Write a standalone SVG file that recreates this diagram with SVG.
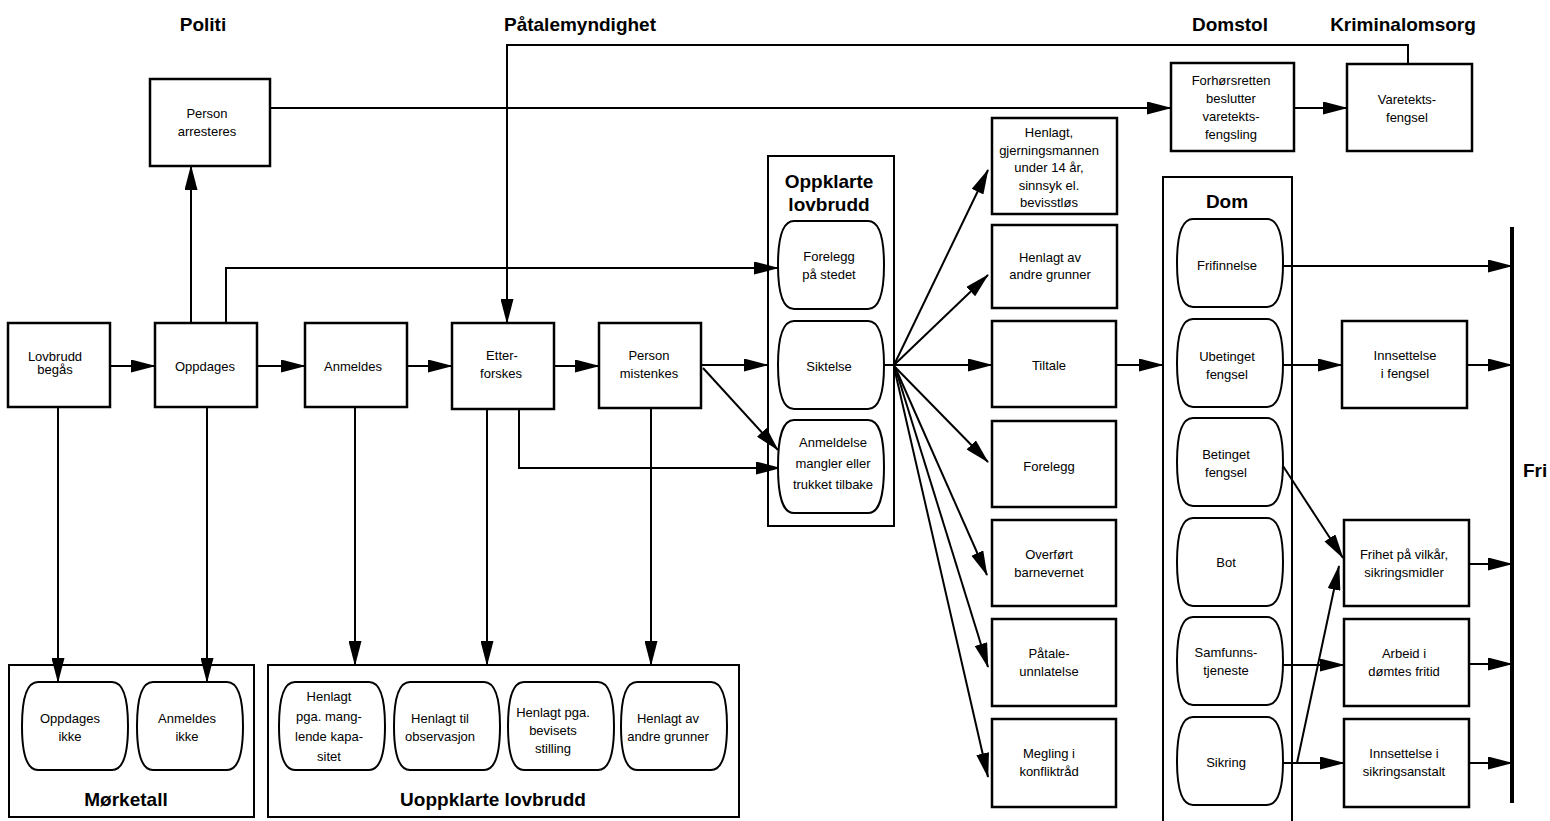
<svg xmlns="http://www.w3.org/2000/svg" xmlns:xlink="http://www.w3.org/1999/xlink" width="1550" height="821" viewBox="0 0 1550 821">
<style>
.bx{fill:#fff;stroke:#000;stroke-width:2.5}
.ct{fill:none;stroke:#000;stroke-width:2}
.pl{fill:#fff;stroke:#000;stroke-width:2}
.c{fill:none;stroke:#000;stroke-width:2}
.t{font-family:"Liberation Sans",Arial,sans-serif;font-size:13px;text-anchor:middle;fill:#000}
.h{font-family:"Liberation Sans",Arial,sans-serif;font-size:19px;font-weight:bold;text-anchor:middle;fill:#000}
</style>
<defs>
<marker id="ar" markerUnits="userSpaceOnUse" markerWidth="25" markerHeight="13" refX="24" refY="6.5" orient="auto">
<path d="M0,0 L25,6.5 L0,13 Z" fill="#000"/>
</marker>
<path id="pill" d="M16,0 H90 C101,0 106,14 106,44 C106,74 101,88 90,88 H16 C5,88 0,74 0,44 C0,14 5,0 16,0 Z"/>
</defs>
<rect width="1550" height="821" fill="#fff"/>

<g id="headers">
<text class="h" x="203" y="31">Politi</text>
<text class="h" x="580" y="31">Påtalemyndighet</text>
<text class="h" x="1230" y="31">Domstol</text>
<text class="h" x="1403" y="31">Kriminalomsorg</text>
<text class="h" x="1523" y="477" style="text-anchor:start">Fri</text>
</g>

<g id="containers">
<rect class="ct" x="768" y="156" width="126" height="370"/>
<text class="h" x="829" y="188">Oppklarte</text>
<text class="h" x="829" y="211">lovbrudd</text>
<path class="ct" d="M1163,830 V177 H1292 V830"/>
<text class="h" x="1227" y="208">Dom</text>
<rect class="ct" x="9" y="665" width="245" height="152"/>
<text class="h" x="126" y="806">Mørketall</text>
<rect class="ct" x="268" y="665" width="471" height="152"/>
<text class="h" x="493" y="806">Uoppklarte lovbrudd</text>
<line x1="1512" y1="227" x2="1512" y2="803" stroke="#000" stroke-width="4"/>
</g>

<g id="connectors">
<line class="c" x1="110" y1="366" x2="155" y2="366" marker-end="url(#ar)"/>
<line class="c" x1="257" y1="366" x2="305" y2="366" marker-end="url(#ar)"/>
<line class="c" x1="407" y1="366" x2="452" y2="366" marker-end="url(#ar)"/>
<line class="c" x1="554" y1="366" x2="599" y2="366" marker-end="url(#ar)"/>
<line class="c" x1="701" y1="365" x2="768" y2="365" marker-end="url(#ar)"/>
<line class="c" x1="703" y1="368" x2="778" y2="450" marker-end="url(#ar)"/>
<polyline class="c" points="519,409 519,468 780,468" marker-end="url(#ar)"/>
<polyline class="c" points="226,323 226,268 778,268" marker-end="url(#ar)"/>
<line class="c" x1="191" y1="323" x2="191" y2="166" marker-end="url(#ar)"/>
<line class="c" x1="270" y1="108" x2="1171" y2="108" marker-end="url(#ar)"/>
<line class="c" x1="1294" y1="108" x2="1347" y2="108" marker-end="url(#ar)"/>
<polyline class="c" points="1408,64 1408,45 507,45 507,323" marker-end="url(#ar)"/>
<line class="c" x1="58" y1="407" x2="58" y2="682" marker-end="url(#ar)"/>
<line class="c" x1="207" y1="407" x2="207" y2="682" marker-end="url(#ar)"/>
<line class="c" x1="355" y1="407" x2="355" y2="665" marker-end="url(#ar)"/>
<line class="c" x1="487" y1="409" x2="487" y2="665" marker-end="url(#ar)"/>
<line class="c" x1="651" y1="408" x2="651" y2="665" marker-end="url(#ar)"/>
<line class="c" x1="884" y1="365" x2="894" y2="365"/>
<line class="c" x1="894" y1="365" x2="988" y2="170" marker-end="url(#ar)"/>
<line class="c" x1="894" y1="365" x2="988" y2="275" marker-end="url(#ar)"/>
<line class="c" x1="894" y1="365" x2="992" y2="365" marker-end="url(#ar)"/>
<line class="c" x1="894" y1="366" x2="988" y2="462" marker-end="url(#ar)"/>
<line class="c" x1="895" y1="367" x2="987" y2="575" marker-end="url(#ar)"/>
<line class="c" x1="895" y1="367" x2="988" y2="667" marker-end="url(#ar)"/>
<line class="c" x1="894" y1="367" x2="988" y2="777" marker-end="url(#ar)"/>
<line class="c" x1="1116" y1="365" x2="1163" y2="365" marker-end="url(#ar)"/>
<line class="c" x1="1283" y1="266" x2="1512" y2="266" marker-end="url(#ar)"/>
<line class="c" x1="1283" y1="365" x2="1342" y2="365" marker-end="url(#ar)"/>
<line class="c" x1="1467" y1="365" x2="1512" y2="365" marker-end="url(#ar)"/>
<line class="c" x1="1283" y1="466" x2="1343" y2="558" marker-end="url(#ar)"/>
<line class="c" x1="1283" y1="665" x2="1344" y2="665" marker-end="url(#ar)"/>
<line class="c" x1="1283" y1="763" x2="1344" y2="763" marker-end="url(#ar)"/>
<line class="c" x1="1297" y1="763" x2="1339" y2="566" marker-end="url(#ar)"/>
<line class="c" x1="1469" y1="564" x2="1512" y2="564" marker-end="url(#ar)"/>
<line class="c" x1="1469" y1="664" x2="1512" y2="664" marker-end="url(#ar)"/>
<line class="c" x1="1469" y1="763" x2="1512" y2="763" marker-end="url(#ar)"/>
</g>

<g id="person-arresteres"><rect class="bx" x="150" y="79" width="120" height="87"/>
<text class="t" x="207" y="118">Person</text><text class="t" x="207" y="136">arresteres</text></g>
<g id="lovbrudd-begas"><rect class="bx" x="8" y="323" width="102" height="84"/>
<text class="t" x="55" y="361">Lovbrudd</text><text class="t" x="55" y="374">begås</text></g>
<g id="oppdages"><rect class="bx" x="155" y="323" width="102" height="84"/>
<text class="t" x="205" y="371">Oppdages</text></g>
<g id="anmeldes"><rect class="bx" x="305" y="323" width="102" height="84"/>
<text class="t" x="353" y="371">Anmeldes</text></g>
<g id="etterforskes"><rect class="bx" x="452" y="323" width="102" height="86"/>
<text class="t" x="502" y="360">Etter-</text><text class="t" x="501" y="378">forskes</text></g>
<g id="person-mistenkes"><rect class="bx" x="599" y="323" width="102" height="85"/>
<text class="t" x="649" y="360">Person</text><text class="t" x="649" y="378">mistenkes</text></g>

<g id="forelegg-pa-stedet"><use href="#pill" class="pl" x="778" y="221"/>
<text class="t" x="829" y="261">Forelegg</text><text class="t" x="829" y="279">på stedet</text></g>
<g id="siktelse"><use href="#pill" class="pl" x="778" y="321"/>
<text class="t" x="829" y="371">Siktelse</text></g>
<g id="anmeldelse-mangler"><use href="#pill" class="pl" transform="translate(778,420) scale(1,1.057)"/>
<text class="t" x="833" y="447">Anmeldelse</text><text class="t" x="833" y="468">mangler eller</text><text class="t" x="833" y="489">trukket tilbake</text></g>

<g id="forhorsretten"><rect class="bx" x="1171" y="63" width="123" height="88"/>
<text class="t" x="1231" y="85">Forhørsretten</text><text class="t" x="1231" y="103">beslutter</text><text class="t" x="1231" y="121">varetekts-</text><text class="t" x="1231" y="139">fengsling</text></g>
<g id="varetektsfengsel"><rect class="bx" x="1347" y="64" width="125" height="87"/>
<text class="t" x="1407" y="104">Varetekts-</text><text class="t" x="1407" y="122">fengsel</text></g>

<g id="henlagt-gjerningsmannen"><rect class="bx" x="992" y="118" width="125" height="96"/>
<text class="t" x="1049" y="137">Henlagt,</text><text class="t" x="1049" y="155">gjerningsmannen</text><text class="t" x="1049" y="172">under 14 år,</text><text class="t" x="1049" y="190">sinnsyk el.</text><text class="t" x="1049" y="207">bevisstløs</text></g>
<g id="henlagt-andre"><rect class="bx" x="992" y="225" width="125" height="83"/>
<text class="t" x="1050" y="262">Henlagt av</text><text class="t" x="1050" y="279">andre grunner</text></g>
<g id="tiltale"><rect class="bx" x="992" y="321" width="124" height="86"/>
<text class="t" x="1049" y="370">Tiltale</text></g>
<g id="forelegg"><rect class="bx" x="992" y="421" width="124" height="86"/>
<text class="t" x="1049" y="471">Forelegg</text></g>
<g id="overfort-barnevernet"><rect class="bx" x="992" y="520" width="124" height="86"/>
<text class="t" x="1049" y="559">Overført</text><text class="t" x="1049" y="577">barnevernet</text></g>
<g id="patale-unnlatelse"><rect class="bx" x="992" y="619" width="124" height="87"/>
<text class="t" x="1049" y="658">Påtale-</text><text class="t" x="1049" y="676">unnlatelse</text></g>
<g id="megling"><rect class="bx" x="992" y="719" width="124" height="88"/>
<text class="t" x="1049" y="758">Megling i</text><text class="t" x="1049" y="776">konfliktråd</text></g>

<g id="frifinnelse"><use href="#pill" class="pl" x="1177" y="219"/>
<text class="t" x="1227" y="270">Frifinnelse</text></g>
<g id="ubetinget-fengsel"><use href="#pill" class="pl" x="1177" y="319"/>
<text class="t" x="1227" y="361">Ubetinget</text><text class="t" x="1227" y="379">fengsel</text></g>
<g id="betinget-fengsel"><use href="#pill" class="pl" x="1177" y="418"/>
<text class="t" x="1226" y="459">Betinget</text><text class="t" x="1226" y="477">fengsel</text></g>
<g id="bot"><use href="#pill" class="pl" x="1177" y="518"/>
<text class="t" x="1226" y="567">Bot</text></g>
<g id="samfunnstjeneste"><use href="#pill" class="pl" x="1177" y="617"/>
<text class="t" x="1226" y="657">Samfunns-</text><text class="t" x="1226" y="675">tjeneste</text></g>
<g id="sikring"><use href="#pill" class="pl" x="1177" y="717"/>
<text class="t" x="1226" y="767">Sikring</text></g>

<g id="innsettelse-fengsel"><rect class="bx" x="1342" y="321" width="125" height="87"/>
<text class="t" x="1405" y="360">Innsettelse</text><text class="t" x="1405" y="378">i fengsel</text></g>
<g id="frihet-pa-vilkar"><rect class="bx" x="1344" y="520" width="125" height="86"/>
<text class="t" x="1404" y="559">Frihet på vilkår,</text><text class="t" x="1404" y="577">sikringsmidler</text></g>
<g id="arbeid-fritid"><rect class="bx" x="1344" y="619" width="125" height="87"/>
<text class="t" x="1404" y="658">Arbeid i</text><text class="t" x="1404" y="676">dømtes fritid</text></g>
<g id="innsettelse-sikringsanstalt"><rect class="bx" x="1344" y="719" width="125" height="88"/>
<text class="t" x="1404" y="758">Innsettelse i</text><text class="t" x="1404" y="776">sikringsanstalt</text></g>

<g id="oppdages-ikke"><use href="#pill" class="pl" x="22" y="682"/>
<text class="t" x="70" y="723">Oppdages</text><text class="t" x="70" y="741">ikke</text></g>
<g id="anmeldes-ikke"><use href="#pill" class="pl" x="137" y="682"/>
<text class="t" x="187" y="723">Anmeldes</text><text class="t" x="187" y="741">ikke</text></g>
<g id="henlagt-kapasitet"><use href="#pill" class="pl" x="279" y="682"/>
<text class="t" x="329" y="701">Henlagt</text><text class="t" x="329" y="721">pga. mang-</text><text class="t" x="329" y="741">lende kapa-</text><text class="t" x="329" y="761">sitet</text></g>
<g id="henlagt-observasjon"><use href="#pill" class="pl" x="394" y="682"/>
<text class="t" x="440" y="723">Henlagt til</text><text class="t" x="440" y="741">observasjon</text></g>
<g id="henlagt-bevis"><use href="#pill" class="pl" x="508" y="682"/>
<text class="t" x="553" y="717">Henlagt pga.</text><text class="t" x="553" y="735">bevisets</text><text class="t" x="553" y="753">stilling</text></g>
<g id="henlagt-andre-uoppklart"><use href="#pill" class="pl" x="621" y="682"/>
<text class="t" x="668" y="723">Henlagt av</text><text class="t" x="668" y="741">andre grunner</text></g>
</svg>
